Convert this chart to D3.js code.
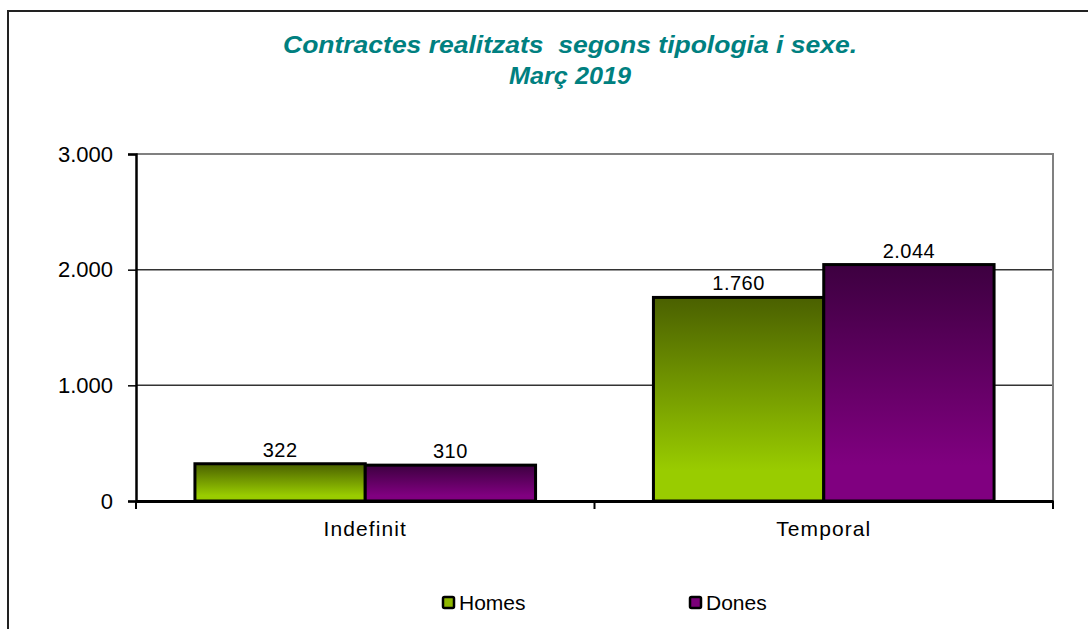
<!DOCTYPE html>
<html>
<head>
<meta charset="utf-8">
<script src="https://cdn.jsdelivr.net/npm/d3@7"></script>
<style>
  body { margin: 0; background: #fff; }
  svg { display: block; font-family: "Liberation Sans", Arial, sans-serif; }
</style>
</head>
<body>
<svg width="1088" height="629"></svg>
<script>
// chart data
const categories = ['Indefinit', 'Temporal'];
const seriesNames = ['Homes', 'Dones'];
const homes = [322, 1760];
const dones = [310, 2044];
const yTicks = [0, 1000, 2000, 3000];
const titleLines = ['Contractes realitzats  segons tipologia i sexe.', 'Març 2019'];

function main() {
    const svg = d3.select('svg');
    const fmt = d3.formatLocale({ decimal: ',', thousands: '.', grouping: [3], currency: ['', '€'] }).format(',');
    const font = '"Liberation Sans", Arial, sans-serif';

    // outer frame
    svg.append('rect')
        .attr('x', 8).attr('y', 11)
        .attr('width', 1100).attr('height', 640)
        .attr('fill', 'none').attr('stroke', '#222').attr('stroke-width', 2);

    // gradients
    const defs = svg.append('defs');
    const grads = [['gHomes', '#4a6000', '#99cc00'], ['gDones', '#3d0040', '#800080']];
    grads.forEach(function (g) {
        const lg = defs.append('linearGradient').attr('id', g[0])
            .attr('x1', 0).attr('y1', 0).attr('x2', 0).attr('y2', 1);
        lg.append('stop').attr('offset', '0%').attr('stop-color', g[1]);
        lg.append('stop').attr('offset', '85%').attr('stop-color', g[2]);
        lg.append('stop').attr('offset', '100%').attr('stop-color', g[2]);
    });

    const left = 136, right = 1053, top = 154, bottom = 501;
    const x = d3.scaleBand().domain(categories).range([left, right]).paddingInner(0).paddingOuter(0);
    const inner = 59 / 459;
    const xs = d3.scaleBand().domain(seriesNames)
        .range([x.bandwidth() * inner, x.bandwidth() * (1 - inner)]);
    const y = d3.scaleLinear().domain([0, 3000]).range([bottom, top]);

    // title (stretched to the reference widths)
    const titleWidths = [574, 122];
    svg.append('g').selectAll('text').data(titleLines).enter().append('text')
        .attr('x', 570).attr('y', function (d, i) { return 53 + i * 31; })
        .attr('text-anchor', 'middle')
        .attr('font-size', 24).attr('font-weight', 'bold').attr('font-style', 'italic')
        .attr('fill', '#008080')
        .style('white-space', 'pre')
        .attr('textLength', function (d, i) { return titleWidths[i]; })
        .attr('lengthAdjust', 'spacingAndGlyphs')
        .text(function (d) { return d; });

    // gridlines
    svg.append('g').selectAll('line').data(yTicks.filter(function (t) { return t > 0 && t < 3000; }))
        .enter().append('line')
        .attr('x1', left).attr('x2', right)
        .attr('y1', function (d) { return y(d); }).attr('y2', function (d) { return y(d); })
        .attr('stroke', '#333').attr('stroke-width', 1.5);

    // plot border top/right
    svg.append('path')
        .attr('d', 'M' + left + ',' + top + 'H' + right + 'V' + bottom)
        .attr('fill', 'none').attr('stroke', '#808080').attr('stroke-width', 2);

    // bars
    const rows = [homes, dones];
    const fills = ['url(#gHomes)', 'url(#gDones)'];
    seriesNames.forEach(function (s, si) {
        const g = svg.append('g');
        g.selectAll('rect').data(categories).enter().append('rect')
            .attr('x', function (d) { return x(d) + xs(s); })
            .attr('y', function (d, i) { return y(rows[si][i]); })
            .attr('width', xs.bandwidth())
            .attr('height', function (d, i) { return bottom - y(rows[si][i]); })
            .attr('fill', fills[si])
            .attr('stroke', '#000').attr('stroke-width', 3);
        g.selectAll('text').data(categories).enter().append('text')
            .attr('x', function (d) { return x(d) + xs(s) + xs.bandwidth() / 2; })
            .attr('y', function (d, i) { return y(rows[si][i]) - 7; })
            .attr('text-anchor', 'middle').attr('font-size', 20).attr('fill', '#000')
            .attr('letter-spacing', 0.5)
            .text(function (d, i) { return fmt(rows[si][i]); });
    });

    // y axis
    const yAxis = svg.append('g')
        .attr('transform', 'translate(' + left + ',0)')
        .call(d3.axisLeft(y).tickValues(yTicks).tickFormat(fmt).tickSize(8).tickPadding(15));
    yAxis.select('.domain').attr('stroke', '#000').attr('stroke-width', 2.5);
    yAxis.selectAll('.tick line').attr('stroke', '#000').attr('stroke-width', 1.5);
    yAxis.selectAll('text').attr('font-size', 22).attr('font-family', font).attr('fill', '#000');

    // x axis
    const xAxis = svg.append('g')
        .attr('transform', 'translate(0,' + bottom + ')')
        .call(d3.axisBottom(x).tickSize(0).tickPadding(20));
    xAxis.select('.domain').attr('stroke', '#000').attr('stroke-width', 3);
    xAxis.selectAll('text').attr('font-size', 21).attr('font-family', font).attr('fill', '#000')
        .attr('letter-spacing', 1.1);
    // category separators
    svg.append('g').selectAll('line').data(categories.concat(['end'])).enter().append('line')
        .attr('x1', function (d, i) { return i < categories.length ? x(d) : right; })
        .attr('x2', function (d, i) { return i < categories.length ? x(d) : right; })
        .attr('y1', bottom).attr('y2', bottom + 8)
        .attr('stroke', '#000').attr('stroke-width', 2);

    // legend
    const legX = [443, 690];
    const leg = svg.append('g').selectAll('g').data(seriesNames).enter().append('g')
        .attr('transform', function (d, i) { return 'translate(' + legX[i] + ',597)'; });
    leg.append('rect').attr('width', 11).attr('height', 11).attr('rx', 1.5)
        .attr('fill', function (d, i) { return i === 0 ? '#8fb800' : '#7a0078'; })
        .attr('stroke', '#000').attr('stroke-width', 2.5);
    leg.append('text').attr('x', 16).attr('y', 13).attr('font-size', 21).attr('fill', '#000')
        .text(function (d) { return d; });
}
main();
</script>
</body>
</html>
